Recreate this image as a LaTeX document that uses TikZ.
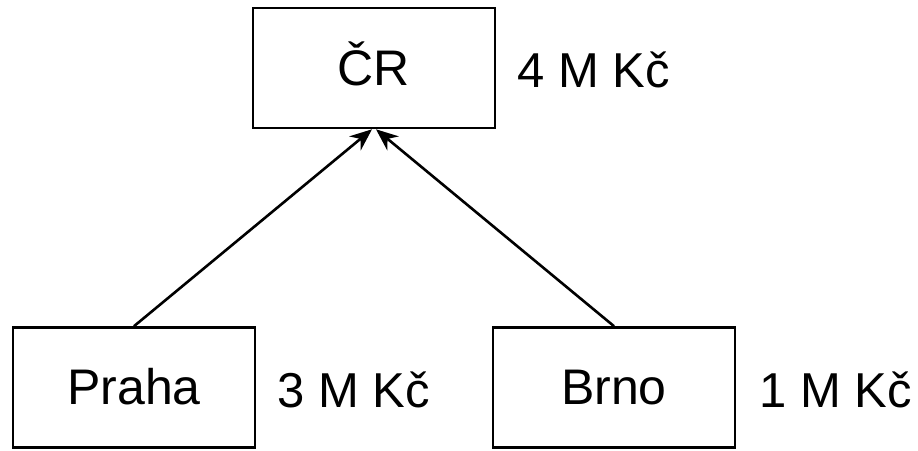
\documentclass[tikz,border=0pt]{standalone}
\usepackage{fontspec}
\setmainfont{Liberation Sans}
\usetikzlibrary{arrows.meta}
\begin{document}
\begin{tikzpicture}[x=1pt,y=-1pt,
  box/.style={draw=black, line width=2.6pt, minimum width=242pt, minimum height=120pt, inner sep=0pt},
  boxtext/.style={anchor=base, inner sep=0pt, font=\fontsize{50}{54}\selectfont},
  amount/.style={anchor=base west, inner sep=0pt, font=\fontsize{49}{53}\selectfont},
  link/.style={draw=black, line width=2.6pt, -{Stealth[length=22pt,width=18pt,inset=7pt]}}]
  \useasboundingbox (0,0) rectangle (918,450);
  % boxes
  \node[box] (cr) at (374,68) {};
  \node[box] (praha) at (134,387.5) {};
  \node[box] (brno) at (614,387.5) {};
  % labels inside the boxes
  \node[boxtext] (crt) at (374,85) {ČR};
  \node[boxtext] (prahat) at (134,404) {Praha};
  \node[boxtext] (brnot) at (614,404) {Brno};
  % amounts beside the boxes
  \node[amount] (crv) at (517,87) {4 M Kč};
  \node[amount] (prahav) at (277,407) {3 M Kč};
  \node[amount] (brnov) at (759,407) {1 M Kč};
  % connectors
  \coordinate (tipa) at ([xshift=-2pt]cr.south);
  \coordinate (tipb) at ([xshift=2pt]cr.south);
  \draw[link] (praha.north) -- (tipa);
  \draw[link] (brno.north) -- (tipb);
\end{tikzpicture}
\end{document}
